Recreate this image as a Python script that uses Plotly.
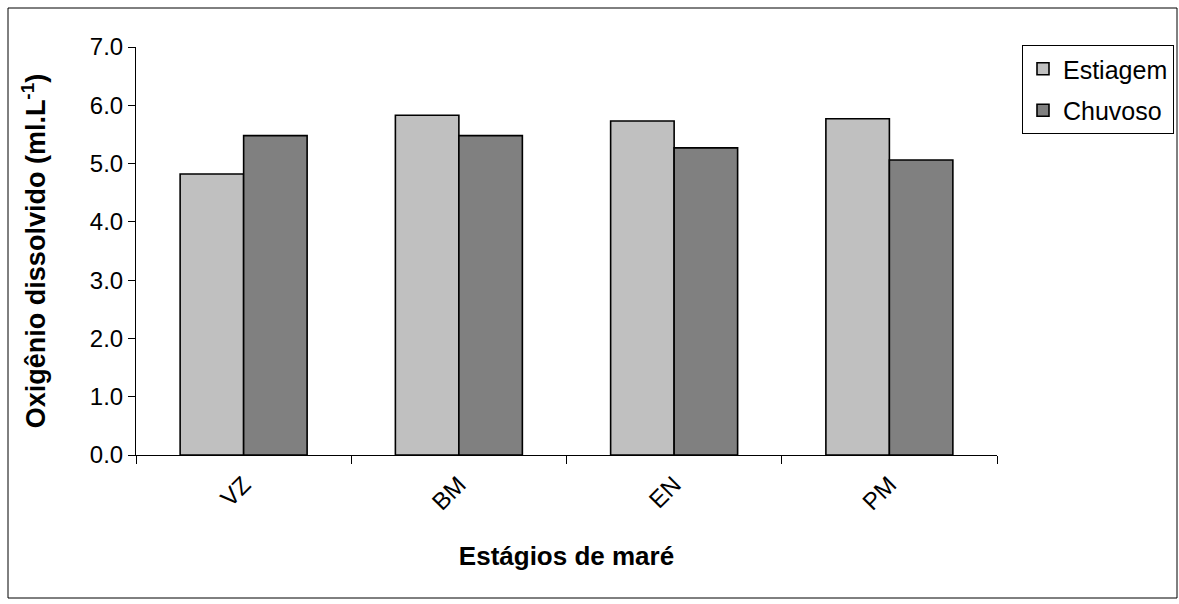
import plotly.graph_objects as go

categories = ["VZ", "BM", "EN", "PM"]
estiagem = [4.82, 5.83, 5.73, 5.77]
chuvoso = [5.48, 5.48, 5.27, 5.06]
y_ticks = [0, 1, 2, 3, 4, 5, 6, 7]
y_tick_labels = ["0.0", "1.0", "2.0", "3.0", "4.0", "5.0", "6.0", "7.0"]

W, H = 1179, 604
L, R, T, B = 136, 182, 47, 149
pw, ph = W - L - R, H - T - B

def px_x(p):
    return (p - L) / pw

def px_y(p):
    return (H - B - p) / ph

FONT = "Liberation Sans, Arial, sans-serif"

fig = go.Figure()
fig.add_trace(go.Bar(x=categories, y=estiagem, name="Estiagem", legendgroup="a",
                     marker=dict(color="#C0C0C0", line=dict(color="black", width=1.6))))
fig.add_trace(go.Bar(x=categories, y=chuvoso, name="Chuvoso", legendgroup="b",
                     marker=dict(color="#808080", line=dict(color="black", width=1.6))))

fig.update_layout(
    width=W, height=H,
    margin=dict(l=L, r=R, t=T, b=B, autoexpand=False),
    paper_bgcolor="white", plot_bgcolor="white",
    barmode="group", bargap=0.41, bargroupgap=0,
    font=dict(family=FONT, size=24, color="black"),
    showlegend=True,
    legend=dict(x=px_x(1022), y=px_y(45), xanchor="left", yanchor="top",
                bordercolor="black", borderwidth=1, bgcolor="white",
                font=dict(size=25), tracegroupgap=6, itemwidth=30),
    xaxis=dict(
        showline=True, linecolor="black", linewidth=1,
        ticks="outside", tickson="boundaries", ticklen=8, tickcolor="black",
        tickangle=-45, tickfont=dict(size=24), ticklabelstandoff=5,
        title=dict(text="<b>Estágios de maré</b>", font=dict(size=26), standoff=32),
    ),
    yaxis=dict(
        range=[0, 7], tickvals=y_ticks, ticktext=y_tick_labels,
        showline=True, linecolor="black", linewidth=1,
        ticks="outside", ticklen=7, tickcolor="black", showgrid=False, zeroline=False,
        tickfont=dict(size=24),
        title=dict(text="<b>Oxigênio dissolvido (ml.L<sup>-1</sup>)</b>", font=dict(size=27), standoff=36),
    ),
    shapes=[dict(type="rect", xref="paper", yref="paper",
                 x0=px_x(8), x1=px_x(1177), y0=px_y(598), y1=px_y(8),
                 line=dict(color="black", width=1), layer="below")],
)

fig.write_html("out.html", config={"displayModeBar": False},
               post_script="document.body.style.margin='0';")
